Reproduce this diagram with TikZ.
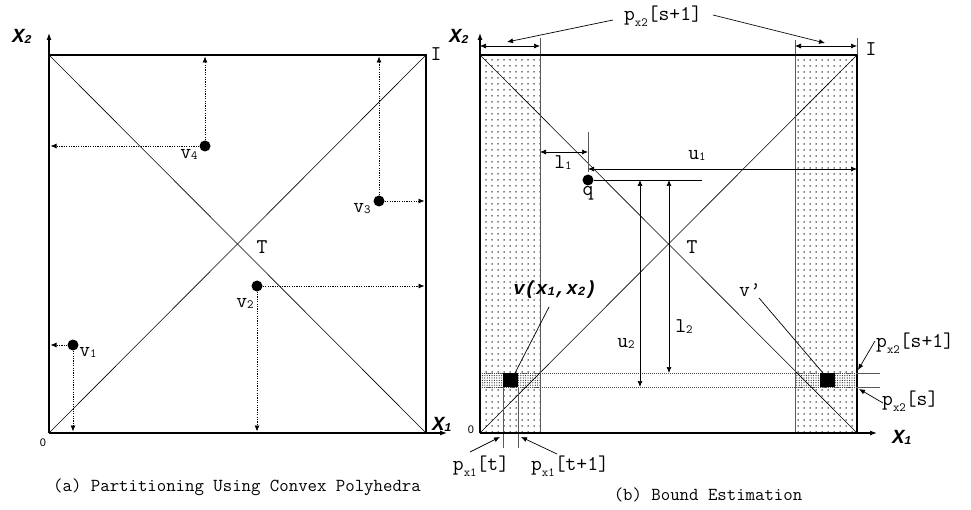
\documentclass[tikz,border=0pt]{standalone}
\usepackage{fontspec}
\newfontfamily\bimono{Liberation Mono}
\newfontfamily\sansf{Liberation Sans}
\usetikzlibrary{arrows.meta,patterns.meta}
\newcommand\lbl{\ttfamily\fontsize{21}{21}\selectfont}
\newcommand\sbt[1]{\raisebox{-1pt}{\fontsize{12.5}{12.5}\selectfont #1}}
\newcommand\psb[1]{\raisebox{-6pt}{\fontsize{12.5}{12.5}\selectfont #1}}
\newcommand\axl[1]{{\bimono\fontsize{20}{20}\selectfont\bfseries\itshape X\raisebox{-1pt}{\fontsize{12}{12}\selectfont #1}}}
\begin{document}
\begin{tikzpicture}[x=1pt,y=-1pt,
  box/.style={line width=1.4pt},
  diag/.style={line width=0.6pt},
  tip/.style={-{Latex[length=6pt,width=5pt]}},
  darr/.style={tip,line width=0.8pt,dash pattern=on 1.2pt off 1.2pt,shorten >=1.5pt},
  arr/.style={tip,line width=0.7pt},
  barr/.style={{Latex[length=6pt,width=5pt]}-{Latex[length=6pt,width=5pt]},line width=0.7pt},
  axis/.style={-{Latex[length=7pt,width=5pt]},line width=1.2pt},
  pt/.style={circle,fill,inner sep=0pt,minimum size=11pt},
  txt/.style={font=\lbl,inner sep=0pt},
  strip/.style={pattern={Dots[distance=6pt,radius=0.75pt]},pattern color=black},
  dense/.style={pattern={Dots[distance=2.4pt,radius=0.6pt]},pattern color=black!85},
  gline/.style={draw=black!65,line width=0.9pt},
  hline/.style={draw=black!70,line width=0.8pt,dash pattern=on 1pt off 1pt}]
\useasboundingbox (0,0) rectangle (971,510);
\fill[white] (0,0) rectangle (971,510);
% ---------------- left panel ----------------
\coordinate (aO) at (49,433);
\coordinate (aTL) at (49,55);
\coordinate (aI) at (426,55);
\coordinate (aBR) at (426,433);
\coordinate (aX) at (447,433);
\coordinate (aY) at (49,33);
\draw[diag] (aO) -- (aI);
\draw[diag] (aTL) -- (aBR);
\draw[box] (aTL) -- (aI) -- (aBR);
\draw[axis] (aO) -- (aX);
\draw[axis] (aO) -- (aY);
\node[txt] (aX2) at (22,36) {\axl{2}};
\node[txt] (aX1) at (442,424) {\axl{1}};
\node[txt] (aIl) at (436,54) {I};
\node[txt] (aT) at (262,247) {T};
\node[inner sep=0pt,font=\sansf\fontsize{11}{11}\selectfont] (a0) at (43,443) {0};
\node[pt] (v4) at (205,146) {};
\node[pt] (v3) at (379,201) {};
\node[pt] (v2) at (257,286) {};
\node[pt] (v1) at (73,345) {};
\draw[darr] (v4) -- (v4 |- aTL);
\draw[darr] (v4) -- (v4 -| aO);
\draw[darr] (v3) -- (v3 |- aTL);
\draw[darr] (v3) -- (v3 -| aBR);
\draw[darr] (v2) -- (v2 -| aBR);
\draw[darr] (v2) -- (v2 |- aO);
\draw[darr] (v1) -- (v1 -| aO);
\draw[darr] (v1) -- (v1 |- aO);
\node[txt] (v4l) at (189,154) {v\sbt{4}};
\node[txt] (v3l) at (362,209) {v\sbt{3}};
\node[txt] (v2l) at (245,303) {v\sbt{2}};
\node[txt] (v1l) at (88,352) {v\sbt{1}};
\node[inner sep=0pt,font=\ttfamily\fontsize{18.3}{18.3}\selectfont] (capa) at (237,487) {(a) Partitioning Using Convex Polyhedra};
% ---------------- right panel ----------------
\coordinate (bO) at (480,433);
\coordinate (bTL) at (480,55);
\coordinate (bI) at (857,55);
\coordinate (bBR) at (857,433);
\coordinate (bX) at (877,433);
\coordinate (bY) at (480,33);
\fill[strip] (480,55) rectangle (540,433);
\fill[strip] (795,55) rectangle (857,433);
\fill[white] (480,373) rectangle (540,387);
\fill[white] (795,373) rectangle (857,387);
\fill[dense] (480,373) rectangle (540,387);
\fill[dense] (795,373) rectangle (857,387);
\draw[diag] (bO) -- (bI);
\draw[diag] (bTL) -- (bBR);
% strip boundaries
\coordinate (sL) at (540,38);
\coordinate (sR) at (795,40);
\coordinate (sE) at (857,38);
\draw[gline] (sL) -- (sL |- bO);
\draw[gline] (sR) -- (sR |- bO);
\draw[gline] (sE) -- (bI);
\draw[line width=1.1pt] (bI) -- (bBR);
\draw[box] (bTL) -- (bI);
% horizontal strip
\coordinate (hA) at (480,373);
\coordinate (hB) at (480,387);
\coordinate (hA2) at (857,373);
\coordinate (hB2) at (857,387);
\coordinate (hA3) at (880,373);
\coordinate (hB3) at (880,387);
\draw[hline] (hA) -- (hA2);
\draw[hline] (hB) -- (hB2);
\draw[gline] (hA2) -- (hA3);
\draw[gline] (hB2) -- (hB3);
% cells
\coordinate (t0) at (503,387);
\coordinate (t1) at (518,387);
\coordinate (t0b) at (503,448);
\coordinate (t1b) at (518,448);
\draw[gline] (t0) -- (t0b);
\draw[gline] (t1) -- (t1b);
\fill (503,373) rectangle (518,387);
\fill (820,373) rectangle (835,387);
\coordinate (cv) at (515,373);
\coordinate (cvp) at (823,373);
% axes
\draw[axis] (bO) -- (bX);
\draw[axis] (bO) -- (bY);
\node[txt] (bX2) at (459,36) {\axl{2}};
\node[txt] (bX1) at (902,437) {\axl{1}};
\node[txt] (bIl) at (871,49) {I};
\node[txt] (bT) at (692,247) {T};
\node[inner sep=0pt,font=\sansf\fontsize{11}{11}\selectfont] (b0) at (471,430) {0};
% top dimension arrows
\coordinate (dA) at (480,46);
\coordinate (dB) at (540,46);
\coordinate (dC) at (795,46);
\coordinate (dD) at (857,46);
\draw[barr] (dA) -- (dB);
\draw[barr] (dC) -- (dD);
\node[txt] (ptop) at (663,16) {p\psb{x2}[s+1]};
\coordinate (ptA) at (507,42);
\coordinate (ptB) at (825,43);
\coordinate (ptL) at (613,20);
\coordinate (ptR) at (713,15);
\draw[arr] (ptL) -- (ptA);
\draw[arr] (ptR) -- (ptB);
% query point
\node[pt] (q) at (588,180) {};
\node[txt] (ql) at (588,193) {q};
\coordinate (qt) at (588,132);
\coordinate (qtb) at (588,172);
\draw[gline] (qt) -- (qtb);
\coordinate (l1a) at (540,152);
\coordinate (l1b) at (588,152);
\draw[barr] (l1a) -- (l1b);
\node[txt] (l1l) at (563,163) {l\sbt{1}};
\coordinate (u1a) at (588,169);
\coordinate (u1b) at (857,169);
\draw[barr] (u1a) -- (u1b);
\node[txt] (u1l) at (697,155) {u\sbt{1}};
\coordinate (qe) at (702,180);
\draw[line width=0.8pt] (q) -- (qe);
\coordinate (u2a) at (640,180);
\coordinate (u2b) at (640,387);
\draw[barr] (u2a) -- (u2b);
\node[txt] (u2l) at (626,343) {u\sbt{2}};
\coordinate (l2a) at (669,180);
\coordinate (l2b) at (669,373);
\draw[barr] (l2a) -- (l2b);
\node[txt] (l2l) at (684,327) {l\sbt{2}};
% v labels
\node[inner sep=0pt] (vl) at (555,290) {\bimono\fontsize{19}{19}\selectfont\bfseries\itshape v(x\sbt{1},x\sbt{2})};
\coordinate (vlp) at (549,307);
\draw[line width=0.7pt] (vlp) -- (cv);
\node[txt] (vpl) at (750,290) {v’};
\coordinate (vpp) at (759,298);
\draw[line width=0.7pt] (vpp) -- (cvp);
% right labels
\node[txt,anchor=west] (ps1) at (876,343) {p\psb{x2}[s+1]};
\coordinate (ps1a) at (875,341);
\coordinate (ps1b) at (858,370);
\draw[arr] (ps1a) -- (ps1b);
\node[txt,anchor=west] (ps0) at (882,401) {p\psb{x2}[s]};
\coordinate (ps0a) at (883,403);
\coordinate (ps0b) at (859,389);
\draw[arr] (ps0a) -- (ps0b);
% bottom labels
\node[txt] (pt0) at (481,466) {p\psb{x1}[t]};
\node[txt] (pt1) at (570,466) {p\psb{x1}[t+1]};
\coordinate (pt0a) at (470,452);
\coordinate (pt0b) at (500,437);
\draw[arr] (pt0a) -- (pt0b);
\coordinate (pt1a) at (557,454);
\coordinate (pt1b) at (521,437);
\draw[arr] (pt1a) -- (pt1b);
\node[inner sep=0pt,font=\ttfamily\fontsize{18.3}{18.3}\selectfont] (capb) at (708,495) {(b) Bound Estimation};
\end{tikzpicture}
\end{document}
